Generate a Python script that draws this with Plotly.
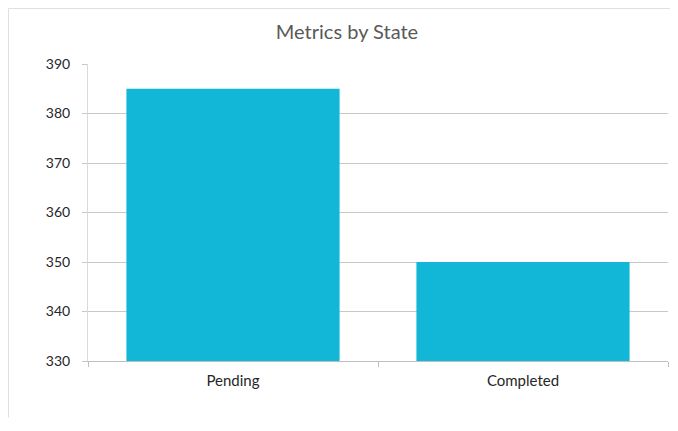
import plotly.graph_objects as go

# Data
states = ["Pending", "Completed"]
counts = [385, 350]
y_ticks = [330, 340, 350, 360, 370, 380, 390]

bar_color = "#12B6D7"
grid_color = "#C8C8C8"
font_family = "Lato, 'Open Sans', sans-serif"

fig = go.Figure()

fig.add_trace(go.Bar(
    x=states,
    y=counts,
    marker=dict(color=bar_color, line=dict(width=0)),
))

# Outer chart frame (left and top edges)
fig.add_shape(type="line", xref="paper", yref="paper",
              x0=-0.1371, x1=-0.1371, y0=-0.19, y1=1.1869,
              line=dict(color="#E0E0E0", width=1))
fig.add_shape(type="line", xref="paper", yref="paper",
              x0=-0.1371, x1=1.05, y0=1.1869, y1=1.1869,
              line=dict(color="#E0E0E0", width=1))

fig.update_layout(
    width=678,
    height=431,
    margin=dict(l=80, r=18, t=56, b=78),
    paper_bgcolor="#FFFFFF",
    plot_bgcolor="#FFFFFF",
    showlegend=False,
    bargap=0.265,
    title=dict(
        text="Metrics by State",
        x=0.5, xanchor="center",
        y=0.944, yanchor="middle",
        font=dict(size=20, family=font_family, color="#595959"),
    ),
    font=dict(family=font_family, color="#262626", size=14),
)

fig.update_xaxes(
    showgrid=False,
    showline=True, linecolor="#BFBFBF", linewidth=1,
    ticks="outside", tickson="boundaries", ticklen=5, tickcolor="#BFBFBF",
    tickfont=dict(size=15, color="#262626"),
    ticklabelstandoff=6,
)
fig.update_yaxes(
    range=[330, 390],
    tickvals=y_ticks,
    showgrid=True, gridcolor=grid_color, gridwidth=1,
    showline=True, linecolor="#D9D9D9", linewidth=1,
    ticks="outside", ticklen=5, tickcolor=grid_color,
    tickfont=dict(size=14, color="#262626"),
    ticklabelstandoff=9,
    zeroline=False,
)

fig.write_html("out.html")
